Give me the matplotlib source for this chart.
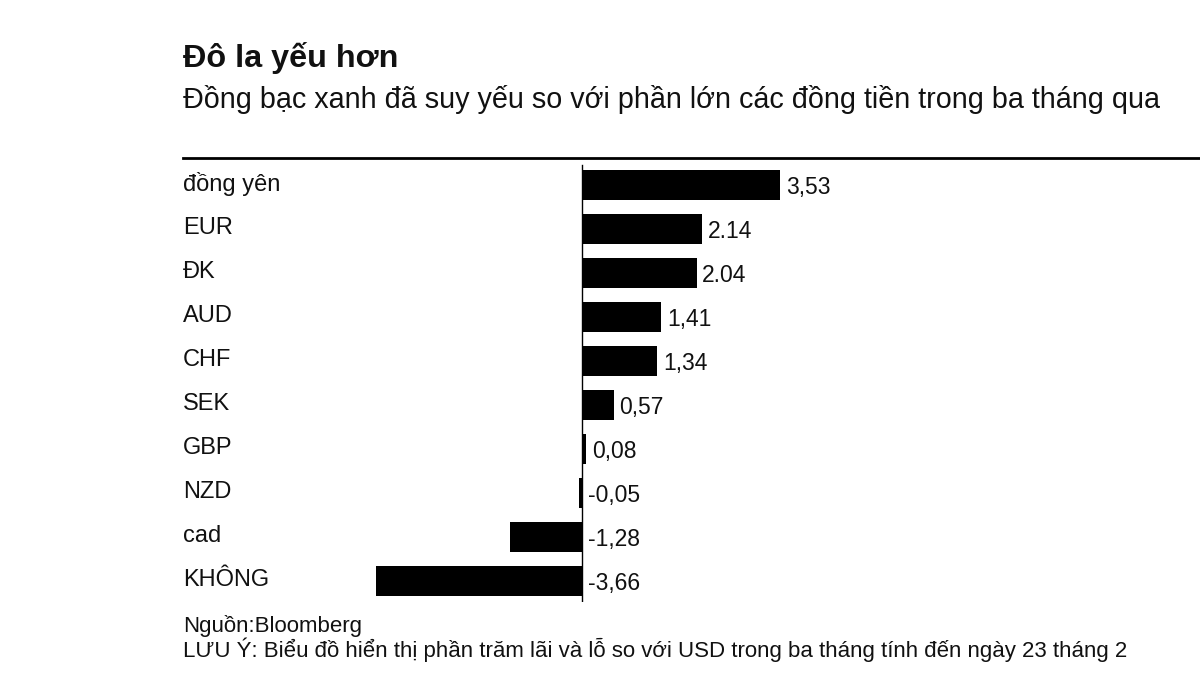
import matplotlib
matplotlib.use("Agg")
import matplotlib.pyplot as plt

plt.rcParams['font.family'] = ['Liberation Sans', 'DejaVu Sans']

categories = ["đồng yên", "EUR", "ĐK", "AUD", "CHF", "SEK", "GBP", "NZD", "cad", "KHÔNG"]
values = [3.53, 2.14, 2.04, 1.41, 1.34, 0.57, 0.08, -0.05, -1.28, -3.66]
value_labels = ["3,53", "2.14", "2.04", "1,41", "1,34", "0,57", "0,08", "-0,05", "-1,28", "-3,66"]

title = "Đô la yếu hơn"
subtitle = "Đồng bạc xanh đã suy yếu so với phần lớn các đồng tiền trong ba tháng qua"
source = "Nguồn:Bloomberg"
note = "LƯU Ý: Biểu đồ hiển thị phần trăm lãi và lỗ so với USD trong ba tháng tính đến ngày 23 tháng 2"

W, H = 1200, 699
fig = plt.figure(figsize=(W / 100, H / 100), dpi=100)

# axes in pixel coords
ax_left, ax_right, ax_top, ax_bottom = 183, 1200, 158, 602
ax = fig.add_axes([ax_left / W, 1 - ax_bottom / H, (ax_right - ax_left) / W, (ax_bottom - ax_top) / H])

zero_px = 582
ppu = 56.2
ax.set_xlim((ax_left - zero_px) / ppu, (ax_right - zero_px) / ppu)
row0, step = 185, 44
ax.set_ylim(9 + (ax_bottom - (row0 + 9 * step)) / step, -(row0 - ax_top) / step)

ypos = list(range(len(categories)))
ax.barh(ypos, values, height=0.68, color="black", zorder=3)
ax.axvline(0, color="black", lw=1.0, ymin=0.0, ymax=0.985, zorder=2)

for i, (v, lab, cat) in enumerate(zip(values, value_labels, categories)):
    x = max(v, 0)
    ax.annotate(lab, (x, i), xytext=(4, -2), textcoords="offset points",
                ha="left", va="center", fontsize=16.5, color="#111111")
    ax.annotate(cat, (0, i), xycoords=("axes fraction", "data"), xytext=(0, 1),
                textcoords="offset points", ha="left", va="center", fontsize=17, color="#111111")

for s in ["left", "right", "bottom"]:
    ax.spines[s].set_visible(False)
ax.spines["top"].set_linewidth(2)
ax.set_xticks([])
ax.set_yticks([])

fig.text(ax_left / W, 1 - 58 / H, title, fontsize=23.3, fontweight="bold", ha="left", va="center", color="#111111")
fig.text(ax_left / W, 1 - 100 / H, subtitle, fontsize=20.7, ha="left", va="center", color="#111111")
fig.text(ax_left / W, 1 - 626 / H, source, fontsize=16, ha="left", va="center", color="#111111")
fig.text(ax_left / W, 1 - 650 / H, note, fontsize=16, ha="left", va="center", color="#111111")

fig.savefig("out.png", dpi=100, facecolor="white")
